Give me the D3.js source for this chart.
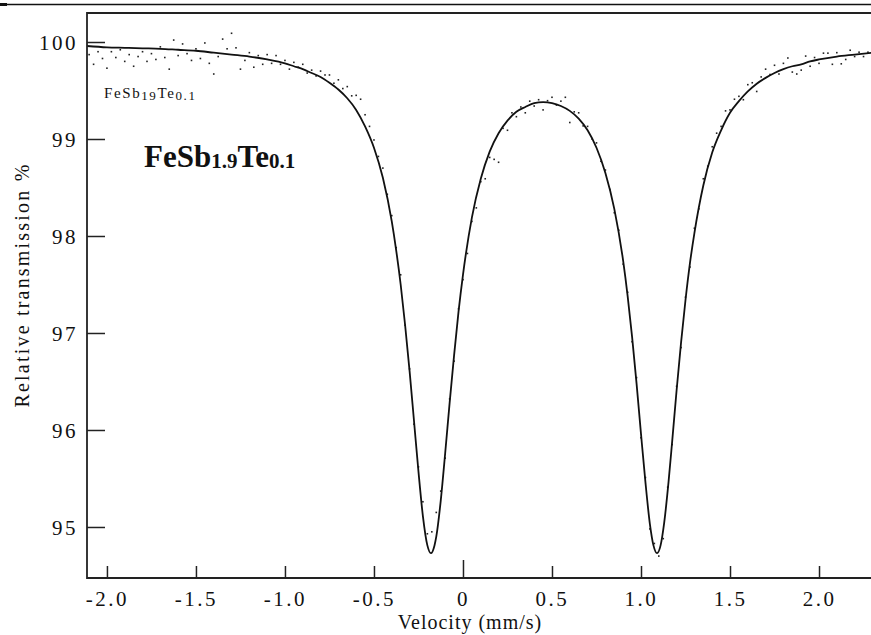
<!DOCTYPE html>
<html>
<head>
<meta charset="utf-8">
<script src="https://cdn.jsdelivr.net/npm/d3@7/dist/d3.min.js"></script>
<style>
  html, body { margin: 0; padding: 0; background: #fff; }
  svg { display: block; }
  text { font-family: "Liberation Serif", "Times New Roman", serif; fill: #111; }
</style>
</head>
<body>
<svg id="chart" width="871" height="635"></svg>
<script>
// Mössbauer spectrum of FeSb1.9Te0.1: measured channels and fitted doublet

// axis ticks
const xTicks = [-2.0, -1.5, -1.0, -0.5, 0, 0.5, 1.0, 1.5, 2.0];
const xTickLabels = ["-2.0", "-1.5", "-1.0", "-0.5", "0", "0.5", "1.0", "1.5", "2.0"];
const yTicks = [95, 96, 97, 98, 99, 100];
const yTickLabels = ["95", "96", "97", "98", "99", "100"];

// fitted curve (velocity mm/s, relative transmission %)
const fitVelocity = [
  -2.12, -2.0, -1.9, -1.8, -1.7, -1.6, -1.5, -1.4, -1.3, -1.2, -1.1, -1.0,
  -0.95, -0.9, -0.85, -0.8, -0.75, -0.7, -0.65, -0.6, -0.55, -0.5, -0.45,
  -0.4, -0.375, -0.35, -0.325, -0.3, -0.275, -0.25, -0.225, -0.2, -0.18,
  -0.16, -0.15, -0.125, -0.1, -0.075, -0.05, -0.025, 0, 0.05, 0.1, 0.15,
  0.2, 0.25, 0.3, 0.35, 0.4, 0.45, 0.5, 0.55, 0.6, 0.65, 0.7, 0.75, 0.8,
  0.85, 0.9, 0.925, 0.95, 0.975, 1.0, 1.025, 1.05, 1.07, 1.09, 1.11, 1.13,
  1.155, 1.175, 1.2, 1.225, 1.25, 1.275, 1.3, 1.35, 1.4, 1.45, 1.5, 1.55,
  1.6, 1.65, 1.7, 1.75, 1.8, 1.85, 1.9, 1.95, 2.0, 2.1, 2.2, 2.3
];
const fitTransmission = [
  99.96, 99.945, 99.94, 99.935, 99.93, 99.92, 99.91, 99.89, 99.87, 99.85, 99.82, 99.78,
  99.75, 99.72, 99.68, 99.64, 99.58, 99.51, 99.42, 99.30, 99.13, 98.91, 98.60,
  98.15, 97.85, 97.50, 97.08, 96.61, 96.09, 95.57, 95.11, 94.81, 94.73,
  94.81, 94.90, 95.27, 95.76, 96.28, 96.77, 97.22, 97.60, 98.19, 98.59, 98.87,
  99.06, 99.19, 99.28, 99.33, 99.37, 99.38, 99.37, 99.34, 99.29, 99.21, 99.09, 98.91, 98.65,
  98.28, 97.74, 97.38, 96.96, 96.48, 95.96, 95.46, 95.03, 94.81, 94.73, 94.81, 95.04,
  95.47, 95.88, 96.41, 96.90, 97.34, 97.72, 98.03, 98.52, 98.86, 99.09, 99.27, 99.39,
  99.49, 99.57, 99.63, 99.68, 99.72, 99.75, 99.77, 99.80, 99.82, 99.85, 99.87, 99.89
];

// measured channels
const dotVelocity = [
  -2.100, -2.075, -2.050, -2.025, -2.000, -1.975, -1.950, -1.925, -1.900, -1.875,
  -1.850, -1.825, -1.800, -1.775, -1.750, -1.725, -1.700, -1.675, -1.650, -1.625,
  -1.600, -1.575, -1.550, -1.525, -1.500, -1.475, -1.450, -1.425, -1.400, -1.375,
  -1.350, -1.325, -1.300, -1.275, -1.250, -1.225, -1.200, -1.175, -1.150, -1.125,
  -1.100, -1.075, -1.050, -1.025, -1.000, -0.975, -0.950, -0.925, -0.900, -0.875,
  -0.850, -0.825, -0.800, -0.775, -0.750, -0.725, -0.700, -0.675, -0.650, -0.625,
  -0.600, -0.575, -0.550, -0.525, -0.500, -0.475, -0.450, -0.425, -0.400, -0.375,
  -0.350, -0.325, -0.300, -0.275, -0.250, -0.225, -0.200, -0.175, -0.150, -0.125,
  -0.100, -0.075, -0.050, -0.025, 0.000, 0.025, 0.050, 0.075, 0.100, 0.125,
  0.150, 0.175, 0.200, 0.225, 0.250, 0.275, 0.300, 0.325, 0.350, 0.375,
  0.400, 0.425, 0.450, 0.475, 0.500, 0.525, 0.550, 0.575, 0.600, 0.625,
  0.650, 0.675, 0.700, 0.725, 0.750, 0.775, 0.800, 0.825, 0.850, 0.875,
  0.900, 0.925, 0.950, 0.975, 1.000, 1.025, 1.050, 1.075, 1.100, 1.125,
  1.150, 1.175, 1.200, 1.225, 1.250, 1.275, 1.300, 1.325, 1.350, 1.375,
  1.400, 1.425, 1.450, 1.475, 1.500, 1.525, 1.550, 1.575, 1.600, 1.625,
  1.650, 1.675, 1.700, 1.725, 1.750, 1.775, 1.800, 1.825, 1.850, 1.875,
  1.900, 1.925, 1.950, 1.975, 2.000, 2.025, 2.050, 2.075, 2.100, 2.125,
  2.150, 2.175, 2.200, 2.225, 2.250, 2.275
];
const dotTransmission = [
  99.87, 99.77, 99.90, 99.83, 99.73, 99.90, 99.84, 99.92, 99.80, 99.87,
  99.75, 99.85, 99.90, 99.80, 99.88, 99.82, 99.95, 99.84, 99.72, 100.02,
  99.86, 99.98, 99.88, 99.81, 99.93, 99.83, 99.99, 99.78, 99.67, 99.85,
  100.03, 99.93, 100.09, 99.94, 99.72, 99.81, 99.89, 99.74, 99.86, 99.77,
  99.87, 99.78, 99.86, 99.77, 99.81, 99.72, 99.79, 99.74, 99.77, 99.68,
  99.71, 99.65, 99.70, 99.66, 99.66, 99.575, 99.61, 99.52, 99.54, 99.445,
  99.45, 99.41, 99.25, 99.13, 98.99, 98.82, 98.70, 98.43, 98.21, 97.88,
  97.60, 97.08, 96.63, 96.06, 95.62, 95.26, 94.93, 94.95, 95.15, 95.37,
  95.71, 96.32, 96.71, 97.25, 97.55, 97.82, 98.15, 98.29, 98.56, 98.59,
  98.81, 98.79, 98.76, 99.11, 99.09, 99.27, 99.23, 99.33, 99.27, 99.39,
  99.34, 99.405, 99.30, 99.395, 99.43, 99.35, 99.39, 99.43, 99.17, 99.28,
  99.27, 99.135, 99.13, 99.00, 98.96, 98.77, 98.68, 98.48, 98.24, 98.06,
  97.71, 97.42, 96.91, 96.54, 95.92, 95.51, 94.98, 94.83, 94.70, 94.88,
  95.41, 95.85, 96.45, 96.85, 97.37, 97.68, 98.08, 98.28, 98.59, 98.72,
  98.92, 99.06, 99.13, 99.29, 99.30, 99.41, 99.44, 99.405, 99.56, 99.58,
  99.49, 99.64, 99.72, 99.665, 99.76, 99.67, 99.78, 99.835, 99.69, 99.67,
  99.71, 99.855, 99.75, 99.84, 99.78, 99.885, 99.885, 99.77, 99.89, 99.775,
  99.82, 99.915, 99.85, 99.895, 99.85, 99.895
];

const svg = d3.select("#chart");
const W = 871, H = 635;
const plot = { left: 87, top: 13, right: 871, bottom: 578 };

const x = d3.scaleLinear().domain([-2.112, 2.292]).range([plot.left, plot.right]);
const y = d3.scaleLinear().domain([94.474, 100.299]).range([plot.bottom, plot.top]);

// rule across the top of the page
svg.append("line").attr("x1", 0).attr("x2", W).attr("y1", 4.5).attr("y2", 4.5)
  .attr("stroke", "#111").attr("stroke-width", 1.6);
svg.append("rect").attr("x", 0).attr("y", 3).attr("width", 7).attr("height", 3).attr("fill", "#111");

svg.append("clipPath").attr("id", "plotClip").append("rect")
  .attr("x", plot.left).attr("y", plot.top)
  .attr("width", plot.right - plot.left).attr("height", plot.bottom - plot.top);

const inner = svg.append("g").attr("clip-path", "url(#plotClip)");

// measured points
inner.append("g").selectAll("rect")
  .data(d3.range(dotVelocity.length))
  .join("rect")
  .attr("x", i => x(dotVelocity[i]) - 0.8)
  .attr("y", i => y(dotTransmission[i]) - 0.8)
  .attr("width", 1.6).attr("height", 1.6)
  .attr("fill", "#222");

// fitted doublet
const line = d3.line()
  .x(i => x(fitVelocity[i]))
  .y(i => y(fitTransmission[i]))
  .curve(d3.curveMonotoneX);
inner.append("path")
  .datum(d3.range(fitVelocity.length))
  .attr("d", line)
  .attr("fill", "none")
  .attr("stroke", "#111")
  .attr("stroke-width", 1.8);

// x axis (ticks point into the plot)
const xAxis = svg.append("g").attr("transform", `translate(0,${plot.bottom})`)
  .call(d3.axisBottom(x).tickValues(xTicks).tickSize(-12).tickSizeOuter(0)
    .tickFormat((d, i) => xTickLabels[i]));
xAxis.select(".domain").remove();
xAxis.selectAll(".tick line").attr("stroke", "#222").attr("stroke-width", 1.5)
  .filter(d => d === 0).attr("y2", -18);
xAxis.selectAll(".tick text")
  .attr("y", 28).attr("dy", null)
  .style("font-family", '"Liberation Serif", serif')
  .style("font-size", "21px").style("letter-spacing", "2.5px")
  .attr("fill", "#111");

// y axis
const yAxis = svg.append("g").attr("transform", `translate(${plot.left},0)`)
  .call(d3.axisLeft(y).tickValues(yTicks).tickSize(-18).tickSizeOuter(0)
    .tickFormat((d, i) => yTickLabels[i]));
yAxis.select(".domain").remove();
yAxis.selectAll(".tick line").attr("stroke", "#222").attr("stroke-width", 1.5);
yAxis.selectAll(".tick text")
  .attr("x", -9).attr("dy", "0.36em")
  .style("font-family", '"Liberation Serif", serif')
  .style("font-size", "21px").style("letter-spacing", "2.5px")
  .attr("fill", "#111");

// frame: left, top, bottom
svg.append("path")
  .attr("d", `M${plot.right},${plot.top}H${plot.left}V${plot.bottom}H${plot.right}`)
  .attr("fill", "none").attr("stroke", "#222").attr("stroke-width", 1.8);

// axis titles
svg.append("text")
  .attr("x", 470).attr("y", 629).attr("text-anchor", "middle")
  .style("font-size", "20px").style("letter-spacing", "1px")
  .text("Velocity (mm/s)");

svg.append("text")
  .attr("transform", "translate(29,285) rotate(-90)")
  .attr("text-anchor", "middle")
  .style("font-size", "20px").style("letter-spacing", "2.2px")
  .text("Relative transmission %");

// small sample label
const small = svg.append("text").attr("x", 104).attr("y", 98)
  .style("font-size", "15px").style("letter-spacing", "1.6px");
small.append("tspan").text("FeSb");
small.append("tspan").attr("dy", 2).style("font-size", "13px").text("19");
small.append("tspan").attr("dy", -2).text("Te");
small.append("tspan").attr("dy", 2).style("font-size", "13px").text("0.1");

// bold sample label
const big = svg.append("text").attr("x", 144).attr("y", 167)
  .style("font-size", "31px").style("font-weight", "bold");
big.append("tspan").text("FeSb");
big.append("tspan").attr("dy", 1).style("font-size", "21px").text("1.9");
big.append("tspan").attr("dy", -1).text("Te");
big.append("tspan").attr("dy", 1).style("font-size", "21px").text("0.1");
</script>
</body>
</html>
